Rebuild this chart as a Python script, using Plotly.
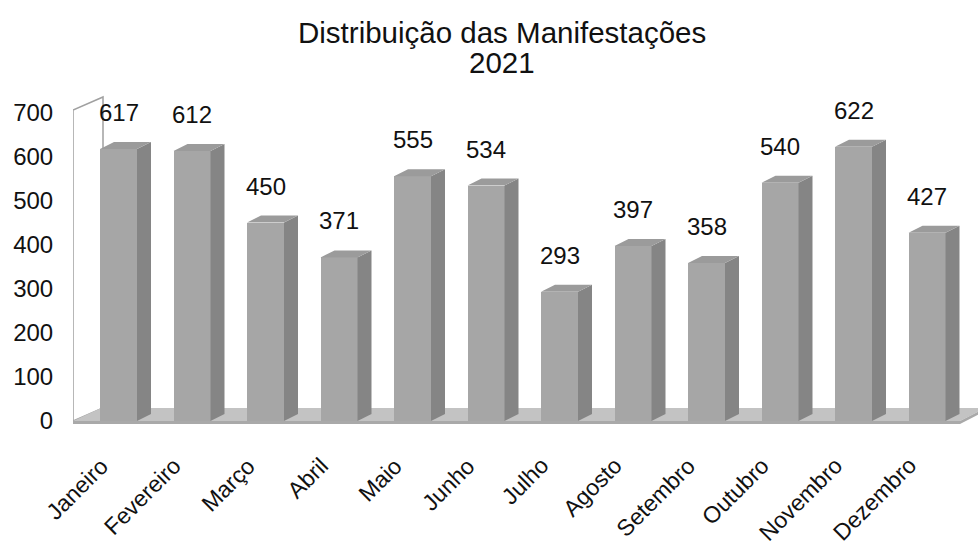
import plotly.graph_objects as go

# ---- data ----
months = ["Janeiro", "Fevereiro", "Março", "Abril", "Maio", "Junho",
          "Julho", "Agosto", "Setembro", "Outubro", "Novembro", "Dezembro"]
counts = [617, 612, 450, 371, 555, 534, 293, 397, 358, 540, 622, 427]
y_ticks = [0, 100, 200, 300, 400, 500, 600, 700]
title_line1 = "Distribuição das Manifestações"
title_line2 = "2021"

# ---- geometry (pixel -> data helpers) ----
W, H = 978, 545
ML, MR, MT, MB = 73, 0, 95, 115
X0PX, XSTEP = 118.5, 73.5
Y0PX, YK = 421.0, 0.441

def xd(px):
    return (px - X0PX) / XSTEP

def yd(py):
    return (Y0PX - py) / YK

def paper_x(px):
    return (px - ML) / (W - ML - MR)

def paper_y(py):
    return (H - MB - py) / (H - MT - MB)

FONT = "Arial, Liberation Sans, sans-serif"
FRONT, SIDE, TOP = "#a6a6a6", "#858585", "#9b9b9b"
bw = 37 / XSTEP          # front face width
dx = 14 / XSTEP          # depth offset (x)
dy = 7 / YK              # depth offset (y)

xs = list(range(len(months)))

fig = go.Figure()

# front faces
fig.add_trace(go.Bar(x=xs, y=counts, width=bw, marker=dict(color=FRONT, line=dict(width=0)),
                     hoverinfo="skip", showlegend=False))

# side faces and top faces as polygons
sx, sy, tx, ty = [], [], [], []
for i, v in zip(xs, counts):
    r = i + bw / 2
    l = i - bw / 2
    sx += [r, r + dx, r + dx, r, r, None]
    sy += [0, dy, v + dy, v, 0, None]
    tx += [l, l + dx, r + dx, r, l, None]
    ty += [v, v + dy, v + dy, v, v, None]
fig.add_trace(go.Scatter(x=sx, y=sy, fill="toself", fillcolor=SIDE, mode="lines",
                         line=dict(width=0, color=SIDE), hoverinfo="skip", showlegend=False))
fig.add_trace(go.Scatter(x=tx, y=ty, fill="toself", fillcolor=TOP, mode="lines",
                         line=dict(width=0, color=TOP), hoverinfo="skip", showlegend=False))

# ---- back wall and floor (decor) ----
shapes = []
wall = f"M {xd(73)},{yd(421)} L {xd(73)},{yd(110)} L {xd(103)},{yd(97)} L {xd(103)},{yd(408)} Z"
shapes.append(dict(type="path", path=wall, xref="x", yref="y", fillcolor="white",
                   line=dict(color="#a0a0a0", width=1.5), layer="below"))
floor_top = (f"M {xd(73)},{yd(421)} L {xd(960)},{yd(421)} L {xd(985)},{yd(408)} "
             f"L {xd(101)},{yd(408)} Z")
shapes.append(dict(type="path", path=floor_top, xref="x", yref="y", fillcolor="#c3c3c3",
                   line=dict(width=0), layer="below"))
floor_edge = (f"M {xd(73)},{yd(421)} L {xd(960)},{yd(421)} L {xd(985)},{yd(408)} "
              f"L {xd(985)},{yd(411)} L {xd(960)},{yd(424)} L {xd(73)},{yd(424)} Z")
shapes.append(dict(type="path", path=floor_edge, xref="x", yref="y", fillcolor="#a9a9a9",
                   line=dict(width=0), layer="below"))

# ---- annotations: data labels, category labels and title ----
annotations = []
for i, v in zip(xs, counts):
    annotations.append(dict(x=i, y=v, xref="x", yref="y", text=str(v), showarrow=False,
                            yanchor="bottom", yshift=21,
                            font=dict(family=FONT, size=24, color="#111111")))
for i, m in zip(xs, months):
    annotations.append(dict(x=i, y=paper_y(450), xref="x", yref="paper", text=m,
                            showarrow=False, textangle=-45, xanchor="right", yanchor="top",
                            xshift=-3, font=dict(family=FONT, size=23, color="#111111")))
annotations.append(dict(x=paper_x(501.5), y=paper_y(32.5), xref="paper", yref="paper",
                        text=title_line1, showarrow=False, xanchor="center", yanchor="middle",
                        font=dict(family=FONT, size=29.5, color="#111111")))
annotations.append(dict(x=paper_x(501.5), y=paper_y(62.5), xref="paper", yref="paper",
                        text=title_line2, showarrow=False, xanchor="center", yanchor="middle",
                        font=dict(family=FONT, size=29.5, color="#111111")))

fig.update_layout(
    width=W, height=H,
    margin=dict(l=ML, r=MR, t=MT, b=MB, pad=0, autoexpand=False),
    paper_bgcolor="white", plot_bgcolor="white",
    bargap=0, showlegend=False,
    shapes=shapes, annotations=annotations,
    xaxis=dict(range=[xd(ML), xd(W - MR)], showticklabels=False, automargin=False,
               showgrid=False, zeroline=False, showline=False, ticks=""),
    yaxis=dict(range=[yd(H - MB), yd(MT)], tickvals=y_ticks, automargin=False,
               showgrid=False, zeroline=False, showline=False,
               ticks="outside", ticklen=14, tickcolor="rgba(0,0,0,0)",
               tickfont=dict(family=FONT, size=24, color="#111111")),
)

fig.write_html("out.html", config={"displayModeBar": False},
               post_script="document.body.style.margin='0';document.body.style.overflow='hidden';")
